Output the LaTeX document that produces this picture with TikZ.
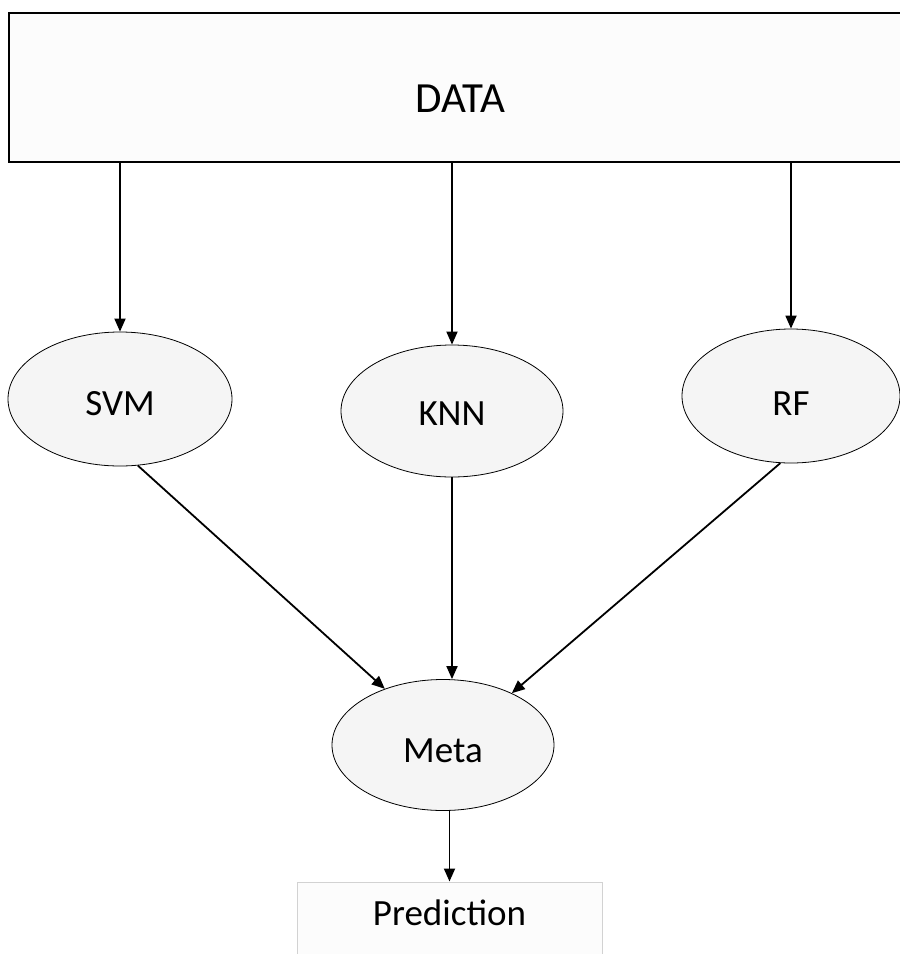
\documentclass[tikz,border=0pt]{standalone}
\usepackage{fontspec}
\setmainfont{Carlito}
\usetikzlibrary{shapes.geometric,arrows.meta}
\begin{document}
\begin{tikzpicture}[x=1pt,y=1pt,
  databox/.style={draw=black,line width=1.5pt,fill=gray!2,rectangle,minimum width=903pt,minimum height=149pt,inner sep=0pt,font=\fontsize{43}{46}\selectfont},
  model/.style={draw=black,line width=0.8pt,fill=gray!8,ellipse,inner sep=0pt,font=\fontsize{37}{40}\selectfont},
  predbox/.style={draw=gray!35,line width=1pt,fill=gray!2,rectangle,minimum width=305pt,minimum height=90pt,inner sep=0pt,font=\fontsize{37}{40}\selectfont},
  arr/.style={draw=black,line width=1.8pt,-{Triangle[length=13pt,width=11pt]}}]
\useasboundingbox (0,0) rectangle (900,-954);
\clip (0,0) rectangle (900,-954);
\fill[white] (0,0) rectangle (900,-954);
\node[databox] (data) at (460.5,-87.5) {\raisebox{-25pt}[0pt][0pt]{DATA}};
\node[model,minimum width=224pt,minimum height=134pt] (svm) at (120,-399) {\raisebox{-16pt}[0pt][0pt]{SVM}};
\node[model,minimum width=222pt,minimum height=132pt] (knn) at (452,-411) {\raisebox{-14pt}[0pt][0pt]{KNN}};
\node[model,minimum width=218pt,minimum height=134pt] (rf) at (791,-396) {\raisebox{-19pt}[0pt][0pt]{RF}};
\node[model,minimum width=222pt,minimum height=131pt] (meta) at (443,-745) {\raisebox{-17pt}[0pt][0pt]{Meta}};
\node[predbox] (pred) at (449.5,-927) {\raisebox{2pt}[0pt][0pt]{Prediction}};
\draw[arr] (data.south -| svm.north) -- (svm.north);
\draw[arr] (data.south -| knn.north) -- (knn.north);
\draw[arr] (data.south -| rf.north) -- (rf.north);
\draw[arr] (svm.-75) -- (meta.136);
\draw[arr] (knn.south) -- (knn.south |- meta.north);
\draw[arr] (rf.-99) -- (meta.37);
\draw[arr] (meta.south -| pred.north) -- (pred.north);
\end{tikzpicture}
\end{document}
